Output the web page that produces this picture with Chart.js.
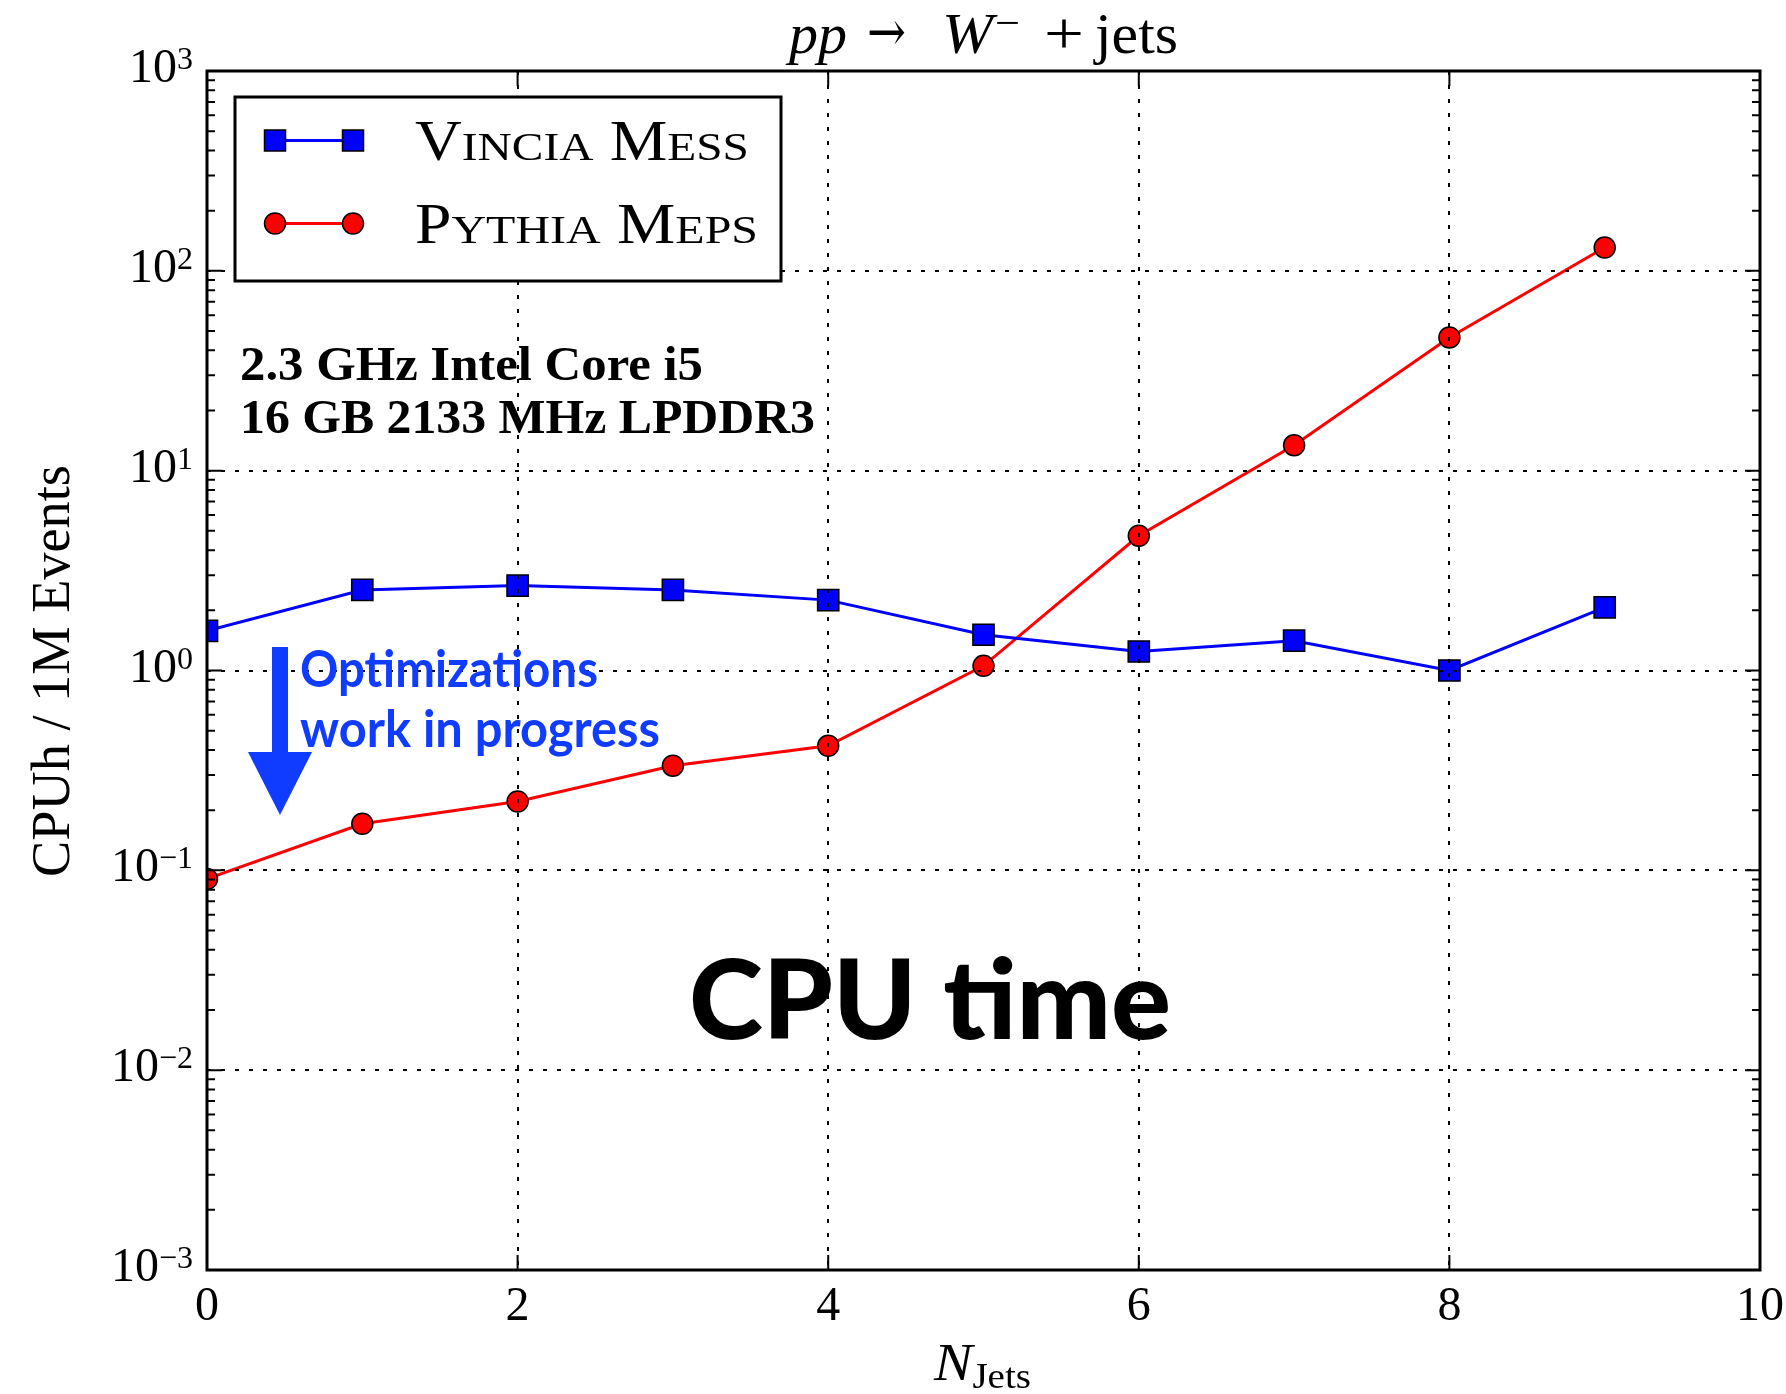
<!DOCTYPE html>
<html lang="en">
<head>
    <meta charset="UTF-8">
    <title>CPU time - pp → W- + jets</title>
    <script src="https://cdn.jsdelivr.net/npm/chart.js"></script>
    <style>
        html, body { margin: 0; padding: 0; background: #fff; }
        #wrap { width: 1786px; height: 1394px; }
    </style>
</head>
<body>
    <div id="wrap"><canvas id="cpuChart" width="1786" height="1394"></canvas></div>

    <script>
        // values (CPUh per 1M events)
        const nJets = [0, 1, 2, 3, 4, 5, 6, 7, 8, 9];
        const vinciaMess = [1.58, 2.53, 2.66, 2.53, 2.25, 1.51, 1.245, 1.41, 1.0, 2.07];
        const pythiaMeps = [0.0906, 0.171, 0.221, 0.334, 0.42, 1.055, 4.72, 13.4, 46.4, 130.8];
        const xTicks = [0, 2, 4, 6, 8, 10];
        const yExponents = [-3, -2, -1, 0, 1, 2, 3];

        const SERIF = '"Liberation Serif", "DejaVu Serif", serif';
        const SANS = 'Lato, "Noto Sans", sans-serif';
        const NOTE_BLUE = '#0f3cff';

        // draw a row of text runs (font / offset / gap), optionally squeezed to a width
        function drawRuns(ctx, runs, x, y, width, align) {
            let total = 0;
            const widths = runs.map(r => {
                ctx.font = r.font;
                const w = ctx.measureText(r.text).width;
                total += w + (r.gap || 0);
                return w;
            });
            const s = width ? width / total : 1;
            let x0 = x;
            if (align === 'right') x0 = x - total * s;
            if (align === 'center') x0 = x - total * s / 2;
            ctx.save();
            ctx.translate(x0, y);
            ctx.scale(s, 1);
            ctx.textAlign = 'left';
            ctx.textBaseline = 'alphabetic';
            let cx = 0;
            runs.forEach((r, i) => {
                ctx.font = r.font;
                ctx.fillText(r.text, cx, r.dy || 0);
                cx += widths[i] + (r.gap || 0);
            });
            ctx.restore();
        }

        function smallCapsRuns(text, size) {
            const runs = [];
            for (const ch of text) {
                const lower = ch !== ch.toUpperCase();
                const sz = lower ? Math.round(size * 0.74) : size;
                const last = runs[runs.length - 1];
                if (last && last.size === sz) last.text += ch.toUpperCase();
                else runs.push({ text: ch.toUpperCase(), size: sz, font: sz + 'px ' + SERIF });
            }
            return runs;
        }

        const decorPlugin = {
            id: 'decor',
            afterDatasetsDraw(chart) {
                const { ctx, chartArea: a } = chart;
                const xs = chart.scales.x, ys = chart.scales.y;
                ctx.save();
                ctx.fillStyle = '#000';
                ctx.strokeStyle = '#000';

                // dotted grid (drawn over the lines, like the original)
                ctx.lineWidth = 2;
                ctx.setLineDash([4, 10]);
                xTicks.slice(1, -1).forEach(v => {
                    const px = Math.round(xs.getPixelForValue(v));
                    ctx.beginPath(); ctx.moveTo(px, a.top); ctx.lineTo(px, a.bottom); ctx.stroke();
                });
                yExponents.slice(1, -1).forEach(e => {
                    const py = Math.round(ys.getPixelForValue(Math.pow(10, e)));
                    ctx.beginPath(); ctx.moveTo(a.left, py); ctx.lineTo(a.right, py); ctx.stroke();
                });
                ctx.setLineDash([]);

                // inward tick marks
                ctx.lineWidth = 2;
                yExponents.slice(0, -1).forEach(e => {
                    for (let m = 1; m <= 9; m++) {
                        const py = ys.getPixelForValue(m * Math.pow(10, e));
                        const len = m === 1 ? 15 : 8;
                        ctx.beginPath();
                        ctx.moveTo(a.left, py); ctx.lineTo(a.left + len, py);
                        ctx.moveTo(a.right, py); ctx.lineTo(a.right - len, py);
                        ctx.stroke();
                    }
                });
                xTicks.slice(1, -1).forEach(v => {
                    const px = xs.getPixelForValue(v);
                    ctx.beginPath();
                    ctx.moveTo(px, a.bottom); ctx.lineTo(px, a.bottom - 15);
                    ctx.moveTo(px, a.top); ctx.lineTo(px, a.top + 15);
                    ctx.stroke();
                });

                // frame
                ctx.lineWidth = 3;
                ctx.strokeRect(a.left, a.top, a.right - a.left, a.bottom - a.top);

                // tick labels
                yExponents.forEach(e => {
                    const py = ys.getPixelForValue(Math.pow(10, e));
                    const ex = e < 0 ? '\u2212' + (-e) : String(e);
                    drawRuns(ctx, [
                        { text: '10', font: '48px ' + SERIF },
                        { text: ex, font: '32px ' + SERIF, dy: -13 }
                    ], a.left - 14, py + 11, null, 'right');
                });
                xTicks.forEach(v => {
                    drawRuns(ctx, [{ text: String(v), font: '48px ' + SERIF }],
                        xs.getPixelForValue(v), a.bottom + 50, null, 'center');
                });

                // axis titles
                drawRuns(ctx, [
                    { text: 'N', font: 'italic 53px ' + SERIF },
                    { text: 'Jets', font: '36px ' + SERIF, dy: 8 }
                ], 934, 1380, 97);

                ctx.save();
                ctx.translate(69, 671);
                ctx.rotate(-Math.PI / 2);
                drawRuns(ctx, [{ text: 'CPUh / 1M Events', font: '54px ' + SERIF }], 0, 0, 412, 'center');
                ctx.restore();

                // title: pp -> W- + jets (math layout, pieces placed one by one)
                drawRuns(ctx, [{ text: 'pp', font: 'italic 57px ' + SERIF }], 789, 53, 58);
                drawRuns(ctx, [{ text: '\u2192', font: '57px "DejaVu Serif", serif' }], 867, 51, 39);
                drawRuns(ctx, [{ text: 'W', font: 'italic 57px ' + SERIF }], 942, 53, 51);
                drawRuns(ctx, [{ text: '\u2212', font: '40px ' + SERIF }], 995, 36, 25);
                drawRuns(ctx, [{ text: '+', font: '60px ' + SERIF }], 1044, 53, 40);
                drawRuns(ctx, [{ text: 'jets', font: '57px ' + SERIF }], 1095, 53, 83);

                // legend
                ctx.fillStyle = '#fff';
                ctx.fillRect(235, 97, 546, 184);
                ctx.lineWidth = 3;
                ctx.strokeRect(235, 97, 546, 184);
                const rows = [140.5, 223.5];
                const legendW = [334, 343];
                chart.data.datasets.forEach((ds, i) => {
                    const cy = rows[i];
                    ctx.strokeStyle = ds.borderColor;
                    ctx.lineWidth = ds.borderWidth;
                    ctx.beginPath(); ctx.moveTo(275, cy); ctx.lineTo(353, cy); ctx.stroke();
                    [275, 353].forEach(cx => {
                        ctx.fillStyle = ds.pointBackgroundColor;
                        ctx.strokeStyle = '#000';
                        ctx.lineWidth = 1.5;
                        ctx.beginPath();
                        if (ds.pointStyle === 'rect') ctx.rect(cx - 10.5, cy - 10.5, 21, 21);
                        else ctx.arc(cx, cy, 10.5, 0, Math.PI * 2);
                        ctx.fill(); ctx.stroke();
                    });
                    ctx.fillStyle = '#000';
                    drawRuns(ctx, smallCapsRuns(ds.label, 56), 415, cy + 19, legendW[i]);
                });

                // machine info
                ctx.fillStyle = '#000';
                drawRuns(ctx, [{ text: '2.3 GHz Intel Core i5', font: 'bold 48px ' + SERIF }], 240, 380, 463);
                drawRuns(ctx, [{ text: '16 GB 2133 MHz LPDDR3', font: 'bold 48px ' + SERIF }], 240, 433, 575);

                // optimizations note + arrow
                ctx.fillStyle = NOTE_BLUE;
                ctx.fillRect(272, 647, 16, 106);
                ctx.beginPath();
                ctx.moveTo(248, 752); ctx.lineTo(312, 752); ctx.lineTo(280, 815);
                ctx.closePath(); ctx.fill();
                drawRuns(ctx, [{ text: 'Optimizations', font: 'bold 51px ' + SANS }], 300, 687, 298);
                drawRuns(ctx, [{ text: 'work in progress', font: 'bold 51px ' + SANS }], 300, 747, 360);

                // big label
                ctx.fillStyle = '#000';
                drawRuns(ctx, [{ text: 'CPU time', font: '900 110px ' + SANS }], 689, 1039, 482);

                ctx.restore();
            }
        };

        const ctx = document.getElementById('cpuChart').getContext('2d');
        new Chart(ctx, {
            type: 'line',
            data: {
                datasets: [{
                    label: 'Vincia Mess',
                    data: nJets.map((n, i) => ({ x: n, y: vinciaMess[i] })),
                    borderColor: '#0000ff',
                    backgroundColor: '#0000ff',
                    borderWidth: 3,
                    pointStyle: 'rect',
                    pointRadius: 15,
                    pointBackgroundColor: '#0000ff',
                    pointBorderColor: '#000',
                    pointBorderWidth: 1.5,
                    tension: 0,
                    clip: 0
                }, {
                    label: 'Pythia Meps',
                    data: nJets.map((n, i) => ({ x: n, y: pythiaMeps[i] })),
                    borderColor: '#ff0000',
                    backgroundColor: '#ff0000',
                    borderWidth: 3,
                    pointStyle: 'circle',
                    pointRadius: 10.5,
                    pointBackgroundColor: '#ff0000',
                    pointBorderColor: '#000',
                    pointBorderWidth: 1.5,
                    tension: 0,
                    clip: 0
                }]
            },
            options: {
                responsive: false,
                animation: false,
                layout: { padding: { left: 207, right: 26, top: 71, bottom: 124 } },
                plugins: {
                    legend: { display: false },
                    tooltip: { enabled: false }
                },
                scales: {
                    x: { type: 'linear', min: 0, max: 10, display: false },
                    y: { type: 'logarithmic', min: 0.001, max: 1000, display: false }
                }
            },
            plugins: [decorPlugin]
        });
    </script>
</body>
</html>
